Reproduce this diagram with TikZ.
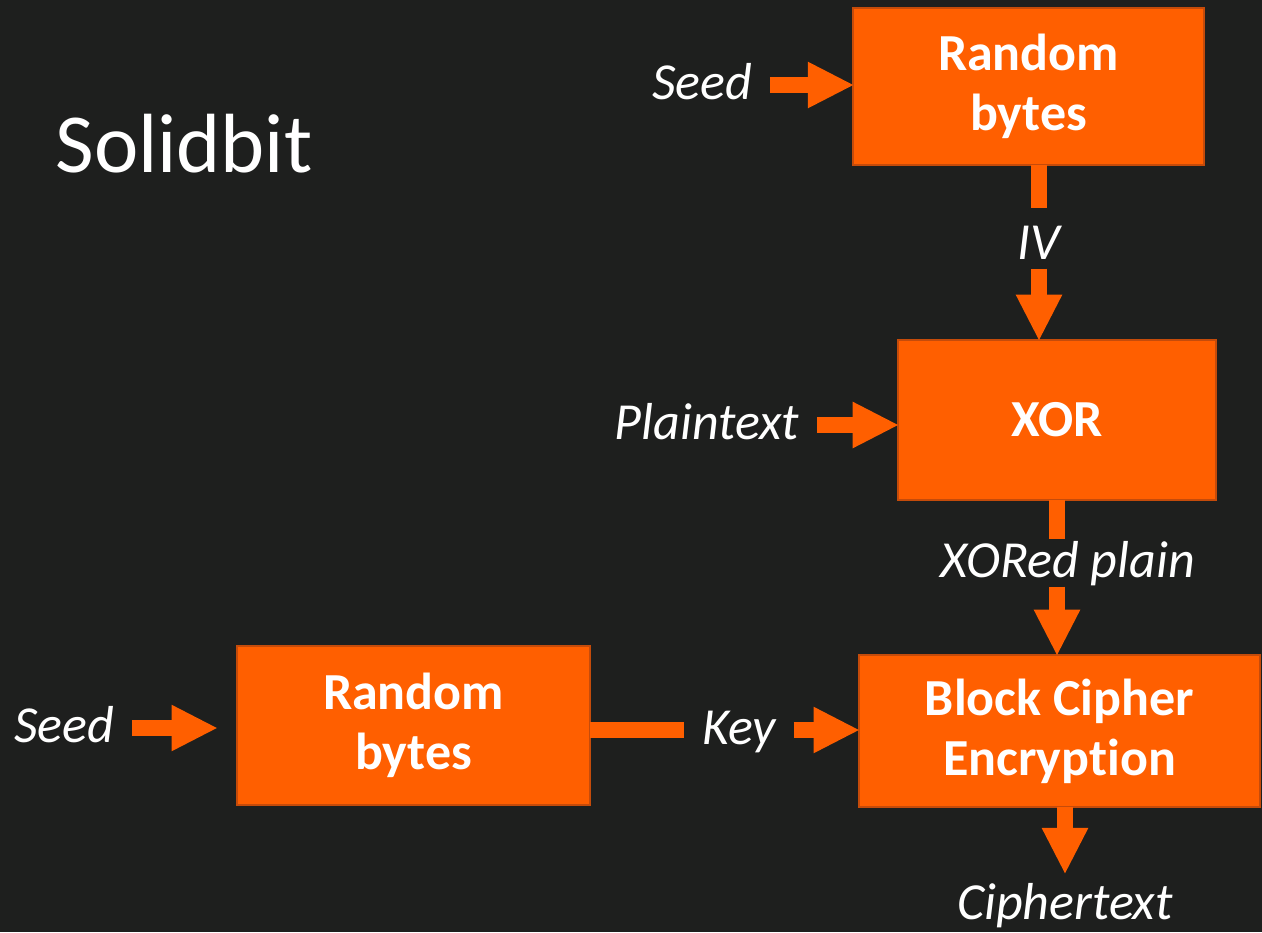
\documentclass[tikz,border=0pt]{standalone}
\usepackage{fontspec}
\setmainfont{Carlito}[Ligatures=NoCommon]
\usetikzlibrary{arrows.meta}

\definecolor{bgdark}{RGB}{30,31,30}
\definecolor{boxorange}{RGB}{255,95,0}
\definecolor{boxedge}{RGB}{197,75,10}

\tikzset{every picture/.style={line width=0.75pt}}
\tikzset{
  blk/.style={rectangle, fill=boxorange, draw=boxedge, line width=1.5pt, text=white, align=center,
    inner sep=0pt, outer sep=0pt, font=\fontsize{39}{45}\selectfont\bfseries},
  lbl/.style={text=white, inner xsep=13pt, inner ysep=1pt, text height=27.3pt, text depth=5.5pt,
    font=\fontsize{39}{45}\selectfont\itshape},
  fatline/.style={draw=boxorange, line width=12pt},
  fatarrow/.style={fatline, -{Triangle[width=35pt,length=34pt,line width=0pt]}},
}

\begin{document}
\begin{tikzpicture}[x=0.75pt,y=0.75pt,yscale=-1,xscale=1]
%background, sets the size of the page
\fill[bgdark] (0,0) rectangle (1262,932);
\useasboundingbox (0,0) rectangle (1262,932);

% Text Node
\node[anchor=base west, text=white, inner sep=0pt, font=\fontsize{63}{70}\selectfont] (title) at (55,172) {Solidbit};

%Shape: Rectangle
\node[blk, minimum width=263pt, minimum height=118pt] (rb1) at (1028.5,86.5) {Random\\bytes};
%Shape: Rectangle
\node[blk, minimum width=238.5pt, minimum height=120pt] (xor) at (1057,420) {XOR};
%Shape: Rectangle
\node[blk, minimum width=301pt, minimum height=114pt] (bc) at (1059.5,731) {Block Cipher\\Encryption};
%Shape: Rectangle
\node[blk, minimum width=265pt, minimum height=119pt] (rb2) at (413.5,725.5) {Random\\bytes};

% Text Node
\node[lbl] (seed1) at (702,85) {Seed};
% Text Node
\node[lbl] (iv) at (1039,245) {IV};
% Text Node
\node[lbl] (plain) at (707,425) {Plaintext};
% Text Node
\node[lbl] (xored) at (1068,563) {XORed plain};
% Text Node
\node[lbl] (seed2) at (64,728) {Seed};
% Text Node
\node[lbl] (key) at (739,730) {Key};
% Text Node
\node[lbl] (ciph) at (1065,905) {Ciphertext};

%Straight Lines
\draw[fatarrow] (seed1.east) -- (seed1.east -| rb1.west);
\draw[fatline, shorten >=10pt] (iv.north |- rb1.south) -- (iv.north);
\draw[fatarrow] (iv.south) -- (iv.south |- xor.north);
\draw[fatarrow] (plain.east) -- (plain.east -| xor.west);
\draw[fatline] (xor.south) -- (xor.south |- xored.north);
\draw[fatarrow] (xor.south |- xored.south) -- (xor.south |- bc.north);
\draw[fatarrow, shorten >=15pt] (seed2.east) -- (seed2.east -| rb2.west);
\draw[fatline] (rb2.east |- key.west) -- (key.west);
\draw[fatarrow] (key.east) -- (key.east -| bc.west);
\draw[fatarrow, shorten >=6pt] (bc.south -| ciph.north) -- (ciph.north);

\end{tikzpicture}
\end{document}
